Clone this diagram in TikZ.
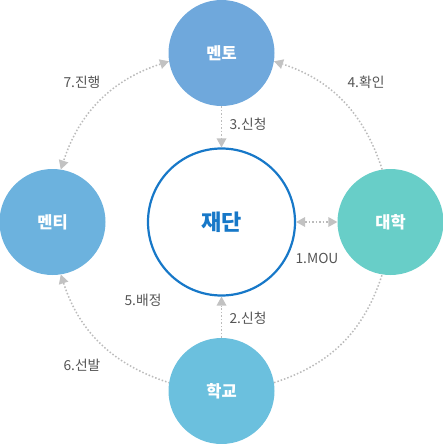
\documentclass[tikz,border=0pt]{standalone}
\usepackage{fontspec}
\setmainfont{Noto Sans CJK KR}
\usetikzlibrary{positioning, calc, arrows.meta}
\definecolor{mentorblue}{HTML}{6FA8DC}
\definecolor{menteeblue}{HTML}{6CB2DE}
\definecolor{univteal}{HTML}{68CEC8}
\definecolor{schoolblue}{HTML}{6BC0DE}
\definecolor{foundblue}{HTML}{1778C8}
\definecolor{linegray}{HTML}{BBBBBB}
\definecolor{tipgray}{HTML}{C2C2C2}
\definecolor{labelgray}{HTML}{555555}
\tikzset{
	party/.style = {circle, inner sep=0pt, minimum size=106pt, text=white, font=\bfseries\fontsize{16.5}{16.5}\selectfont},
	flow/.style = {draw=linegray, line width=1.5pt, dash pattern=on 1.5pt off 2pt,
		>={Triangle[length=9pt, width=10pt, line width=0pt, color=tipgray]}},
	step label/.style = {text=labelgray, font=\fontsize{13.8}{13.8}\selectfont, inner sep=0pt}
}
\begin{document}
\begin{tikzpicture}
		[x=1pt, y=-1pt]
		\useasboundingbox (0, 0) rectangle (443, 444);
		\node (found) [circle, draw=foundblue, line width=2.2pt, minimum size=147pt, inner sep=0pt,
			text=foundblue, font=\bfseries\fontsize{22}{22}\selectfont] at (221.5, 222) {재단};
		\node (mentor) [party, fill=mentorblue] at (221.5, 53) {멘토};
		\node (mentee) [party, fill=menteeblue] at (52.5, 222) {멘티};
		\node (univ) [party, fill=univteal] at (390.5, 222) {대학};
		\node (school) [party, fill=schoolblue] at (221.5, 391) {학교};
		
		% outer ring
		\draw[flow, <->] (mentor.189) to[bend right=27] (mentee.81);
		\draw[flow, ->] (univ.99) to[bend right=27] (mentor.351);
		\draw[flow, <-] (mentee.279) to[bend right=27] (school.171);
		\draw[flow] (school.9) to[bend right=27] (univ.261);
		
		\draw[flow, ->] (mentor) -- (found);
		\draw[flow, ->] (school) -- (found);
		\draw[flow, <->] (found) -- (univ);
		
		\node[step label] at (317, 258) {1.MOU};
		\node[step label] at (248, 318) {2.신청};
		\node[step label] at (248, 124) {3.신청};
		\node[step label] at (366, 82) {4.확인};
		\node[step label] at (143, 300) {5.배정};
		\node[step label] at (82, 365) {6.선발};
		\node[step label] at (82, 82) {7.진행};
	\end{tikzpicture}
\end{document}
